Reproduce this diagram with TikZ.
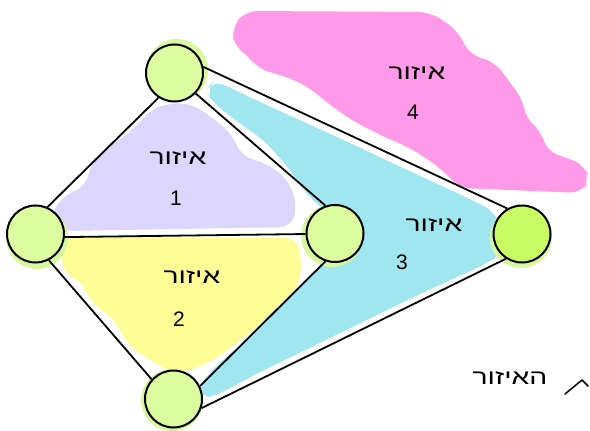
\documentclass[tikz,border=0pt]{standalone}
\usepackage{fontspec}
\usepackage{graphicx}
\newfontfamily\heb[Script=Hebrew]{Liberation Sans}
\TeXXeTstate=1
\definecolor{pinkr}{HTML}{FF99E8}
\definecolor{lavr}{HTML}{DCD6FC}
\definecolor{yelr}{HTML}{FFFC96}
\definecolor{cyanr}{HTML}{A0E6F0}
\definecolor{nodeg}{HTML}{DCFCA0}
\definecolor{nodeb}{HTML}{C8FA64}
\definecolor{halo}{HTML}{D8F8A0}
\newcommand{\hword}[1]{\scalebox{1.35}[1]{\beginR #1\endR}}
\begin{document}
\begin{tikzpicture}[x=1pt,y=-1pt,
  vnode/.style={circle,draw=black,line width=2pt,minimum size=57pt,inner sep=0pt,fill=nodeg},
  edge/.style={line width=1.8pt,black},
  blob/.style={rounded corners=12pt},
  word/.style={font=\heb\fontsize{21}{24}\selectfont,inner sep=0pt},
  num/.style={font=\heb\fontsize{21}{24}\selectfont,inner sep=0pt}]
\useasboundingbox (0,0) rectangle (590,431);
% regions
\fill[pinkr,blob] (245,11) -- (430,12) -- (457,30) -- (470,55) -- (495,62) -- (508,80) -- (523,100) -- (527,122) -- (542,130) -- (545,150) -- (585,165) -- (589,180) -- (582,193) -- (460,188) -- (438,166) -- (410,148) -- (378,134) -- (348,118) -- (325,101) -- (310,88) -- (290,78) -- (256,68) -- (249,55) -- (234,47) -- (232,28) -- cycle;
\fill[lavr,blob] (165,104) -- (190,103) -- (213,118) -- (233,135) -- (240,155) -- (272,166) -- (290,183) -- (297,205) -- (292,227) -- (62,231) -- (50,220) -- (60,198) -- (86,186) -- (92,160) -- (108,148) -- (135,128) -- (150,110) -- cycle;
\fill[yelr,blob] (66,237) -- (298,238) -- (302,272) -- (292,300) -- (268,318) -- (228,350) -- (205,365) -- (175,374) -- (150,360) -- (128,345) -- (115,320) -- (88,300) -- (86,285) -- (62,272) -- (62,250) -- cycle;
\fill[cyanr,blob] (214,80) -- (260,102) -- (350,143) -- (420,176) -- (470,199) -- (495,212) -- (503,230) -- (502,252) -- (490,262) -- (420,294) -- (330,338) -- (260,372) -- (215,396) -- (200,398) -- (198,388) -- (210,372) -- (245,340) -- (285,300) -- (322,264) -- (345,240) -- (330,215) -- (308,196) -- (290,170) -- (266,142) -- (238,122) -- (212,102) -- (206,90) -- cycle;
% halos
\fill[halo] (177,70) circle (31pt);
\fill[halo] (37,238) circle (31pt);
\fill[halo] (332,236) circle (31pt);
\fill[halo] (172,400) circle (31pt);
\fill[halo] (521,237) circle (31pt);
% vertices
\node[vnode] (t) at (174.5,73) {};
\node[vnode] (l) at (35.5,234) {};
\node[vnode] (m) at (335,233.5) {};
\node[vnode] (b) at (173.5,399) {};
\node[vnode,fill=nodeb] (r) at (522,234) {};
% edges
\draw[edge] (t.237) -- (l.66);
\draw[edge] (t.316) -- (m.109);
\draw[edge] (t.12) -- (r.120);
\draw[edge] (l.354) -- (m.181);
\draw[edge] (l.297) -- (b.138);
\draw[edge] (m.251) -- (b.26);
\draw[edge] (b.342) -- (r.237);
% labels
\node[word] (w1) at (178,158) {\hword{איזור}};
\node[num] (n1) at (176,198) {1};
\node[word] (w2) at (192,277) {\hword{איזור}};
\node[num] (n2) at (179,319) {2};
\node[word] (w3) at (434,225) {\hword{איזור}};
\node[num] (n3) at (402,262) {3};
\node[word] (w4) at (417,73) {\hword{איזור}};
\node[num] (n4) at (413,112) {4};
\node[word] (w5) at (510,378) {\hword{האיזור}};
\coordinate (s1) at (565,394);
\coordinate (s2) at (582,380);
\coordinate (s3) at (588,386);
\draw[line width=1.5pt,line cap=round,line join=round] (s1) -- (s2) -- (s3);
\end{tikzpicture}
\end{document}
